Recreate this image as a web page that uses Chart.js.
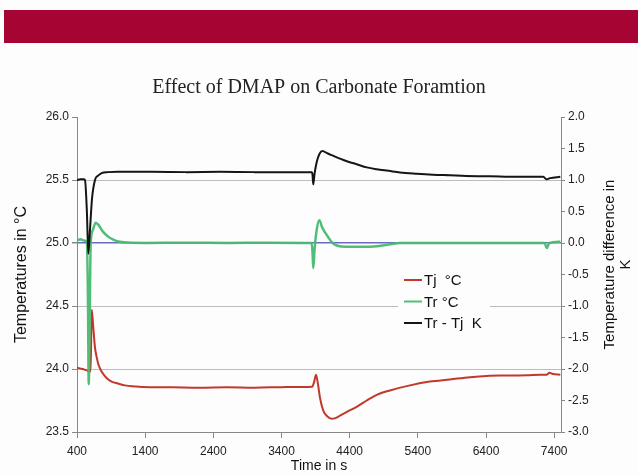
<!DOCTYPE html>
<html><head><meta charset="utf-8">
<script src="https://cdn.jsdelivr.net/npm/chart.js@4"></script>
<style>
html,body{margin:0;padding:0;background:#fdfdfd;}
#wrap{position:relative;width:638px;height:475px;overflow:hidden;}
#banner{position:absolute;left:4px;top:10px;width:634px;height:33px;background:#a60432;}
canvas{position:absolute;left:0;top:0;}
</style></head><body>
<div id="wrap"><div id="banner"></div><canvas id="c" width="638" height="475"></canvas></div>
<script>
const chartTitle = 'Effect of DMAP on Carbonate Foramtion';
const xTitle = 'Time in s';
const leftTitle = 'Temperatures in °C';
const rightTitle = ['Temperature difference in', 'K'];
const seriesLabels = ['Tj  °C', 'Tr °C', 'Tr - Tj  K'];

const xTicks = [400, 1400, 2400, 3400, 4400, 5400, 6400, 7400];
const leftTicks = [23.5, 24.0, 24.5, 25.0, 25.5, 26.0];
const rightTicks = [-3.0, -2.5, -2.0, -1.5, -1.0, -0.5, 0.0, 0.5, 1.0, 1.5, 2.0];

// Tj (jacket temperature, °C, left axis)
const tjTime = [400, 480, 540, 600, 616, 639, 664, 690, 712, 750, 786, 850, 909, 1000, 1104, 1250, 1349, 1800, 2200, 2600, 3000, 3400, 3700, 3850, 3880, 3906, 3935, 3965, 4013, 4070, 4136, 4190, 4258, 4380, 4503, 4650, 4796, 4991, 5285, 5578, 5871, 6165, 6410, 6700, 7000, 7200, 7290, 7330, 7380, 7490];
const tjValues = [24.01, 24.00, 23.99, 23.98, 24.47, 24.33, 24.17, 24.09, 24.04, 23.99, 23.96, 23.92, 23.90, 23.885, 23.87, 23.862, 23.858, 23.855, 23.852, 23.855, 23.852, 23.856, 23.858, 23.86, 23.90, 23.955, 23.88, 23.77, 23.67, 23.625, 23.605, 23.61, 23.63, 23.665, 23.70, 23.75, 23.795, 23.83, 23.87, 23.90, 23.917, 23.935, 23.945, 23.948, 23.95, 23.955, 23.955, 23.97, 23.96, 23.955];

// Tr (reactor temperature, °C, left axis)
const trTime = [400, 450, 500, 542, 560, 572, 588, 601, 630, 674, 720, 780, 859, 940, 1006, 1150, 1400, 2000, 2600, 3200, 3840, 3855, 3866, 3885, 3915, 3954, 4000, 4080, 4150, 4210, 4350, 4600, 4800, 5000, 5138, 5600, 6200, 6800, 7260, 7290, 7330, 7490];
const trValues = [25.02, 25.03, 25.02, 25.01, 24.6, 23.88, 24.5, 25.0, 25.10, 25.16, 25.14, 25.09, 25.05, 25.025, 25.012, 25.003, 25.0, 25.002, 25.0, 25.002, 25.0, 24.93, 24.80, 24.95, 25.10, 25.18, 25.12, 25.05, 25.0, 24.98, 24.97, 24.97, 24.975, 24.99, 25.0, 25.0, 25.0, 25.0, 25.0, 24.96, 25.0, 25.01];

// Tr - Tj (K, right axis)
const diffTime = [400, 450, 500, 517, 545, 566, 590, 620, 664, 710, 762, 855, 1000, 1500, 2000, 2500, 3000, 3500, 3845, 3855, 3866, 3885, 3920, 3960, 3998, 4080, 4170, 4258, 4380, 4503, 4650, 4796, 4970, 5138, 5383, 5620, 5872, 6110, 6356, 6600, 6850, 7050, 7240, 7290, 7340, 7490];
const diffValues = [1.0, 1.01, 1.01, 1.0, 0.5, -0.17, 0.2, 0.7, 1.0, 1.07, 1.11, 1.125, 1.13, 1.13, 1.125, 1.13, 1.125, 1.125, 1.125, 1.08, 0.93, 1.1, 1.30, 1.42, 1.46, 1.42, 1.38, 1.34, 1.29, 1.25, 1.20, 1.17, 1.145, 1.12, 1.10, 1.085, 1.075, 1.065, 1.06, 1.055, 1.05, 1.05, 1.05, 1.01, 1.03, 1.05];

const pts = (t, v) => t.map((x, i) => ({x: x, y: v[i]}));
const SANS = '"Liberation Sans", Arial, sans-serif';

const legendPlugin = {
  id: 'customLegend',
  afterDatasetsDraw(chart) {
    const ctx = chart.ctx;
    ctx.save();
    ctx.fillStyle = '#fdfdfd';
    ctx.fillRect(398, 268, 92, 64);
    chart.data.datasets.forEach((ds, i) => {
      const y = 280 + i * 21.5;
      ctx.strokeStyle = ds.borderColor;
      ctx.lineWidth = 2;
      ctx.beginPath(); ctx.moveTo(404, y); ctx.lineTo(422, y); ctx.stroke();
      ctx.fillStyle = '#111';
      ctx.font = '15px ' + SANS;
      ctx.textBaseline = 'middle';
      ctx.textAlign = 'left';
      ctx.fillText(ds.label, 424, y + 1);
    });
    ctx.restore();
  }
};

const rightTitlePlugin = {
  id: 'rightTitle',
  afterDraw(chart) {
    const ctx = chart.ctx;
    const a = chart.chartArea;
    ctx.save();
    ctx.translate(610, (a.top + a.bottom) / 2 - 10);
    ctx.rotate(-Math.PI / 2);
    ctx.fillStyle = '#111';
    ctx.font = '15px ' + SANS;
    ctx.textAlign = 'center';
    ctx.textBaseline = 'middle';
    rightTitle.forEach((line, i) => ctx.fillText(line, 0, i * 16));
    ctx.restore();
  }
};

new Chart(document.getElementById('c'), {
  type: 'line',
  data: {
    datasets: [
      {label: seriesLabels[0], data: pts(tjTime, tjValues), yAxisID: 'y', borderColor: '#c0392b', borderWidth: 2, order: 3},
      {label: seriesLabels[1], data: pts(trTime, trValues), yAxisID: 'y', borderColor: 'rgba(72,186,112,0.95)', borderWidth: 2.5, order: 2},
      {label: seriesLabels[2], data: pts(diffTime, diffValues), yAxisID: 'y2', borderColor: '#151515', borderWidth: 2, order: 1}
    ]
  },
  options: {
    responsive: false,
    animation: false,
    devicePixelRatio: 1,
    layout: {padding: 0},
    elements: {point: {radius: 0}, line: {cubicInterpolationMode: 'monotone', borderJoinStyle: 'round'}},
    plugins: {
      legend: {display: false},
      tooltip: {enabled: false},
      title: {display: true, text: chartTitle, color: '#222',
        font: {family: '"Liberation Serif", "Times New Roman", serif', size: 20, weight: 'normal', lineHeight: 1.2},
        padding: {top: 76, bottom: 17}}
    },
    scales: {
      x: {
        type: 'linear', min: 400, max: 7500,
        afterBuildTicks: s => { s.ticks = xTicks.map(v => ({value: v})); },
        afterFit: s => { s.height = 43; },
        ticks: {callback: v => String(v), color: '#222', font: {family: SANS, size: 12}, padding: 6, maxRotation: 0, autoSkip: false},
        grid: {drawOnChartArea: false, tickLength: 6, tickColor: '#888'},
        border: {color: '#888', width: 1},
        title: {display: true, text: xTitle, color: '#111', font: {family: SANS, size: 14, lineHeight: 1.2}, padding: {top: 0, bottom: 0}}
      },
      y: {
        position: 'left', min: 23.5, max: 26.0,
        afterBuildTicks: s => { s.ticks = leftTicks.map(v => ({value: v})); },
        afterFit: s => { s.width = 77; },
        ticks: {callback: v => v.toFixed(1), color: '#222', font: {family: SANS, size: 12}, padding: 3},
        grid: {
          color: c => (c.tick && c.tick.value === 25) ? '#6b6bbf' : ((c.tick && (c.tick.value === 26 || c.tick.value === 23.5)) ? 'rgba(0,0,0,0)' : '#bdbdbd'),
          lineWidth: c => (c.tick && c.tick.value === 25) ? 1.5 : 1,
          tickLength: 5, tickColor: '#888'
        },
        border: {color: '#888', width: 1},
        title: {display: true, text: leftTitle, color: '#111', font: {family: SANS, size: 16, lineHeight: 1.2}, padding: {top: 12, bottom: 0}}
      },
      y2: {
        position: 'right', min: -3.0, max: 2.0,
        afterBuildTicks: s => { s.ticks = rightTicks.map(v => ({value: v})); },
        afterFit: s => { s.width = 77; },
        ticks: {callback: v => (Math.abs(v) < 1e-9 ? 0 : v).toFixed(1), color: '#222', font: {family: SANS, size: 12}, padding: 3},
        grid: {drawOnChartArea: false, tickLength: 4, tickColor: '#888'},
        border: {color: '#888', width: 1},
        title: {display: false}
      }
    }
  },
  plugins: [legendPlugin, rightTitlePlugin]
});
</script>
</body></html>
